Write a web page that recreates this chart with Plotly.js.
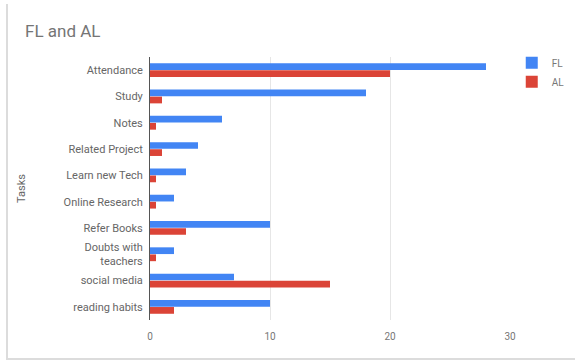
<!DOCTYPE html>
<html>
<head>
<meta charset="utf-8">
<script src="https://cdn.plot.ly/plotly-3.0.1.min.js"></script>
<style>
  html, body { margin: 0; padding: 0; background: #ffffff; }
  #chart { width: 575px; height: 362px; position: absolute; left: 0; top: 0; }
  #frame { position: absolute; left: 6px; top: 4px; width: 569px; height: 354px;
           border-left: 2px solid #dcdcdc; border-bottom: 2px solid #dcdcdc; pointer-events: none; }
</style>
</head>
<body>
<div id="chart"></div>
<div id="frame"></div>
<script>
const categories = ["Attendance", "Study", "Notes", "Related Project", "Learn new Tech",
  "Online Research", "Refer Books", "Doubts with<br>teachers", "social media", "reading habits"];
const flValues = [28, 18, 6, 4, 3, 2, 10, 2, 7, 10];
const alValues = [20, 1, 0.5, 1, 0.5, 0.5, 3, 0.5, 15, 2];
const xTicks = [0, 10, 20, 30];

const traces = [
  { type: 'bar', orientation: 'h', name: 'FL', y: categories, x: flValues,
    marker: { color: '#4285F4' }, hoverinfo: 'x+y' },
  { type: 'bar', orientation: 'h', name: 'AL', y: categories, x: alValues,
    marker: { color: '#DB4437' }, hoverinfo: 'x+y' }
];

const layout = {
  width: 575, height: 362,
  margin: { l: 150, r: 65, t: 57, b: 42, pad: 0, autoexpand: false },
  paper_bgcolor: 'rgba(0,0,0,0)', plot_bgcolor: '#ffffff',
  font: { family: 'Roboto, Arial, sans-serif', size: 11, color: '#666666' },
  title: { text: 'FL and AL', x: 0, xref: 'container', xanchor: 'left', y: 1, yref: 'container',
           yanchor: 'top', pad: { t: 25, l: 25 },
           font: { family: 'Roboto, Arial, sans-serif', size: 17, color: '#757575' } },
  barmode: 'group', bargap: 0.46, bargroupgap: 0.05,
  xaxis: { range: [0, 30], tickvals: xTicks, ticktext: xTicks.map(String),
           showgrid: true, gridcolor: '#e6e6e6', zeroline: false, showline: false,
           ticks: '', ticklabelstandoff: 9, tickfont: { size: 10, color: '#777777' } },
  yaxis: { autorange: 'reversed', showgrid: false, zeroline: false,
           showline: true, linecolor: '#555555', linewidth: 1,
           ticks: '', ticklabelstandoff: 4, automargin: false,
           tickfont: { size: 11, color: '#666666' },
           title: { text: 'Tasks', standoff: 35, font: { size: 11, color: '#666666' } } },
  legend: { x: 0.89, xref: 'container', xanchor: 'left', y: 0.867, yref: 'container', yanchor: 'top',
            bgcolor: 'rgba(0,0,0,0)', font: { size: 10, color: '#777777' },
            itemwidth: 30, tracegroupgap: 0 },
  showlegend: true
};

Plotly.newPlot('chart', traces, layout, { displayModeBar: false, staticPlot: true });
</script>
</body>
</html>
